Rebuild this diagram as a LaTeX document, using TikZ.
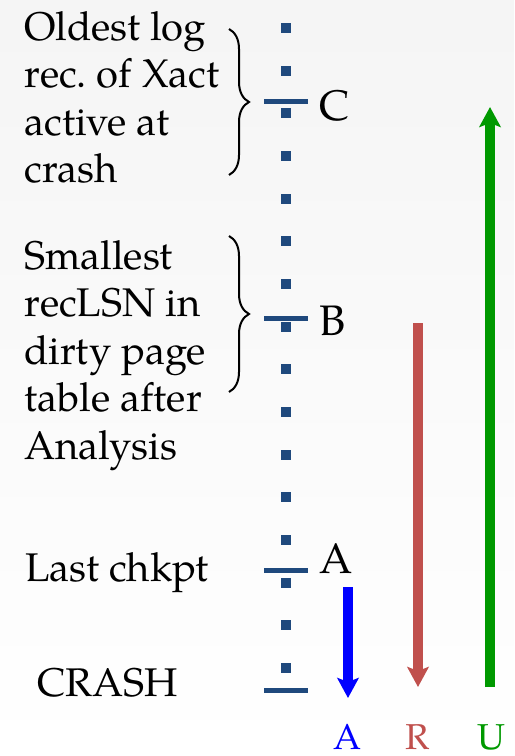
\documentclass[tikz,border=0pt]{standalone}
\usepackage{fontspec}
\setmainfont{texgyrepagella-regular.otf}
\usetikzlibrary{arrows.meta,positioning,decorations.pathreplacing}
\definecolor{axe}{RGB}{31,73,125}
\definecolor{rouge}{RGB}{192,80,77}
\definecolor{vert}{RGB}{0,153,0}
\frenchspacing
\begin{document}
\begin{tikzpicture}[x=0.75pt,y=-0.75pt,
    point/.style={fill=axe,minimum size=7.5pt,inner sep=0pt},
    trait/.style={draw=axe,line width=3.75pt},
    lettre/.style={anchor=west,inner sep=0pt,font=\fontsize{32}{36}\selectfont},
    bloc/.style={anchor=north west,inner sep=0pt,align=left,font=\fontsize{30}{35.6}\selectfont},
    fleche/.style={line width=7.5pt,-{Stealth[length=15pt,width=16pt,inset=3pt]}},
    accolade/.style={decorate,decoration={brace,amplitude=15pt},line width=1.5pt},
    passe/.style={inner sep=0pt,font=\fontsize{27}{30}\selectfont}]
      % Fond
      \shade[top color=black!4,bottom color=white] (0,0) rectangle (514,756);
      \useasboundingbox (0,0) rectangle (514,756);

      % Axe du journal
      \foreach \i in {0,...,15}
        \node[point] (p\i) at (286,{28+42.67*\i}) {};
      \draw[trait] (264,102) -- (308,102);
      \draw[trait] (264,318) -- (308,318);
      \draw[trait] (264,570) -- (308,570);
      \draw[trait] (264,690) -- (308,690);
      \node[lettre] (C) at (319,106) {C};
      \node[lettre] (B) at (319,321) {B};
      \node[lettre] (A) at (319,559) {A};

      % Textes
      \node[bloc] (oldest) at (24,11) {Oldest log\\rec. of Xact\\active at\\crash};
      \draw[accolade] (229,29) -- (229,175);
      \node[bloc] (smallest) at (24,240) {Smallest\\recLSN in\\dirty page\\table after\\Analysis};
      \draw[accolade] (229,236) -- (229,392);
      \node[bloc] (chkpt) at (25,552) {Last chkpt};
      \node[bloc] (crash) at (37,668) {CRASH};

      % Passes
      \coordinate (a1) at (348,587);
      \coordinate (a2) at (348,698);
      \coordinate (r1) at (418,323);
      \coordinate (r2) at (418,687);
      \coordinate (u1) at (490,687);
      \coordinate (u2) at (490,107);
      \draw[fleche,blue] (a1) -- (a2);
      \draw[fleche,rouge] (r1) -- (r2);
      \draw[fleche,vert] (u1) -- (u2);
      \node[passe,text=blue] (la) at (347,737) {A};
      \node[passe,text=rouge] (lr) at (418,737) {R};
      \node[passe,text=vert] (lu) at (491,737) {U};
    \end{tikzpicture}
\end{document}
